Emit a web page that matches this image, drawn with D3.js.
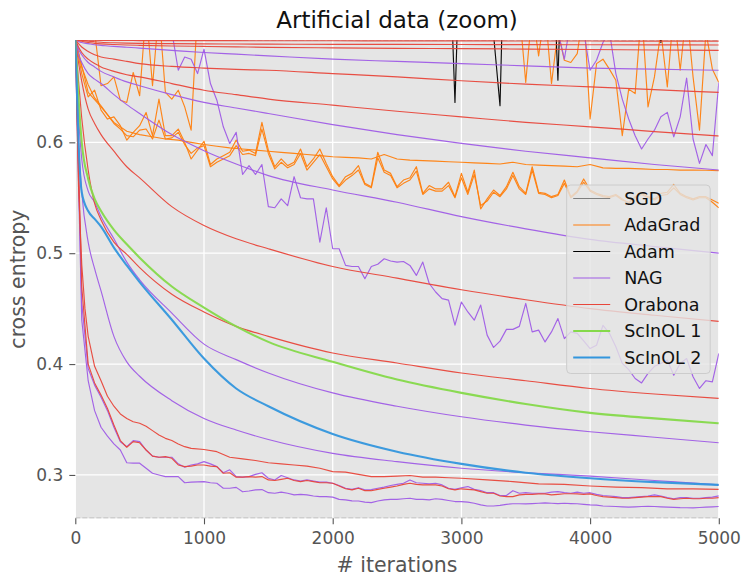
<!DOCTYPE html>
<html>
<head>
<meta charset="utf-8">
<script src="https://d3js.org/d3.v7.min.js"></script>
<style>
    body { margin: 0; background: #fff; }
    text { font-family: "DejaVu Sans", sans-serif; }
</style>
</head>
<body>
<script>
// axis setup
const xTicks = [0, 1000, 2000, 3000, 4000, 5000];
const yTicks = [0.3, 0.4, 0.5, 0.6];
const lossBounds = [0.2609, 0.6923];

const methods = ["SGD", "AdaGrad", "Adam", "NAG", "Orabona", "ScInOL 1", "ScInOL 2"];
const methodColors = ["#7f7f7f", "#ff7f0e", "#000000", "#9f5ce6", "#e8463a", "#85d94a", "#3396dd"];

// iterations for the smooth runs
const smoothIters = [0, 25, 50, 100, 150, 200, 300, 400, 500, 750, 1000, 1250, 1500, 2000, 2500, 3000, 3500, 4000, 4500, 5000];

const sgdIters = [0, 5000];
const sgdLoss = [0.6931, 0.6931];

// AdaGrad, sampled every 100 iterations
const adagradA = [
    0.693, 0.645, 0.632, 0.618, 0.610, 0.607, 0.605, 0.603, 0.602, 0.600,
    0.598, 0.5965, 0.595, 0.594, 0.593, 0.592, 0.591, 0.590, 0.589, 0.588,
    0.587, 0.5865, 0.586, 0.585, 0.589, 0.585, 0.584, 0.5835, 0.583, 0.5825,
    0.582, 0.5815, 0.581, 0.5805, 0.582, 0.580, 0.5795, 0.579, 0.5785, 0.578,
    0.580, 0.577, 0.5765, 0.5765, 0.576, 0.5755, 0.5755, 0.575, 0.575, 0.5748,
    0.5745];
// AdaGrad, sampled every 50 iterations
const adagradB = [
    0.693, 0.662, 0.641, 0.647, 0.629, 0.621, 0.623, 0.615, 0.602, 0.609,
    0.615, 0.627, 0.606, 0.639, 0.606, 0.606, 0.612, 0.600, 0.585, 0.593,
    0.601, 0.580, 0.585, 0.588, 0.591, 0.602, 0.592, 0.593, 0.590, 0.618,
    0.593, 0.578, 0.585, 0.579, 0.582, 0.594, 0.578, 0.585, 0.594, 0.581,
    0.569, 0.561, 0.569, 0.572, 0.579, 0.563, 0.560, 0.591, 0.575, 0.572,
    0.560, 0.566, 0.568, 0.578, 0.554, 0.561, 0.558, 0.558, 0.564, 0.551,
    0.572, 0.555, 0.575, 0.540, 0.549, 0.557, 0.552, 0.560, 0.573, 0.560,
    0.554, 0.578, 0.555, 0.554, 0.551, 0.553, 0.566, 0.551, 0.556, 0.567,
    0.557, 0.554, 0.552, 0.551, 0.553, 0.549, 0.545, 0.551, 0.554, 0.551,
    0.549, 0.554, 0.555, 0.562, 0.554, 0.551, 0.549, 0.551, 0.551, 0.548,
    0.545];
const adagradC = [
    0.693, 0.668, 0.652, 0.640, 0.633, 0.625, 0.617, 0.612, 0.606, 0.605,
    0.611, 0.612, 0.603, 0.620, 0.603, 0.604, 0.609, 0.598, 0.590, 0.595,
    0.597, 0.578, 0.582, 0.585, 0.588, 0.597, 0.589, 0.590, 0.588, 0.612,
    0.590, 0.576, 0.582, 0.577, 0.580, 0.590, 0.575, 0.582, 0.589, 0.578,
    0.567, 0.560, 0.566, 0.570, 0.575, 0.562, 0.559, 0.586, 0.573, 0.570,
    0.559, 0.563, 0.566, 0.574, 0.553, 0.558, 0.556, 0.556, 0.561, 0.550,
    0.568, 0.553, 0.571, 0.543, 0.547, 0.555, 0.551, 0.558, 0.570, 0.558,
    0.553, 0.575, 0.554, 0.553, 0.550, 0.552, 0.563, 0.550, 0.555, 0.564,
    0.556, 0.553, 0.551, 0.550, 0.552, 0.548, 0.546, 0.550, 0.553, 0.550,
    0.548, 0.552, 0.553, 0.559, 0.553, 0.550, 0.548, 0.550, 0.550, 0.546,
    0.541];
const adagradD = [
    0.693, 0.72, 0.71, 0.70, 0.651, 0.653, 0.659, 0.638, 0.636, 0.663,
    0.642, 0.72, 0.651, 0.72, 0.645, 0.639, 0.647, 0.632, 0.611, 0.72,
    0.74, 0.73, 0.75, 0.72, 0.74, 0.73, 0.75, 0.74, 0.72, 0.74,
    0.73, 0.75, 0.74, 0.72, 0.73, 0.75, 0.74, 0.73, 0.72, 0.74,
    0.75, 0.73, 0.74, 0.72, 0.74, 0.75, 0.73, 0.74, 0.72, 0.73,
    0.74, 0.75, 0.73, 0.72, 0.74, 0.73, 0.75, 0.74, 0.72, 0.73,
    0.74, 0.73, 0.75, 0.72, 0.74, 0.73, 0.75, 0.74, 0.73, 0.72,
    0.654, 0.72, 0.678, 0.72, 0.653, 0.70, 0.674, 0.672, 0.680, 0.72,
    0.621, 0.671, 0.675, 0.666, 0.656, 0.606, 0.648, 0.644, 0.72, 0.632,
    0.659, 0.70, 0.650, 0.72, 0.665, 0.72, 0.659, 0.611, 0.70, 0.666,
    0.654];

const adamIters = [0, 50, 1000, 2000, 2900, 2950, 3000, 3250, 3300, 3350, 3700, 3750, 3800, 4500, 4550, 4600, 5000];
const adamLoss = [0.6931, 0.80, 0.82, 0.81, 0.80, 0.636, 0.82, 0.697, 0.633, 0.86, 0.80, 0.656, 0.84, 0.74, 0.690, 0.75, 0.78];

// NAG, smooth runs
const nag1 = [0.6931, 0.691, 0.690, 0.689, 0.688, 0.6875, 0.6865, 0.6858, 0.685, 0.683, 0.681, 0.6795, 0.678, 0.675, 0.673, 0.671, 0.669, 0.667, 0.666, 0.665];
const nag2 = [0.6931, 0.684, 0.679, 0.672, 0.668, 0.664, 0.659, 0.6545, 0.651, 0.643, 0.636, 0.631, 0.626, 0.616, 0.607, 0.599, 0.592, 0.586, 0.580, 0.575];
const nag3 = [0.6931, 0.679, 0.672, 0.662, 0.657, 0.653, 0.643, 0.634, 0.626, 0.607, 0.5925, 0.5805, 0.570, 0.557, 0.546, 0.533, 0.522, 0.5125, 0.506, 0.500];
const nag4 = [0.6931, 0.625, 0.585, 0.556, 0.546, 0.533, 0.513, 0.492, 0.476, 0.446, 0.418, 0.404, 0.392, 0.374, 0.362, 0.3525, 0.345, 0.339, 0.334, 0.329];
const nag5 = [0.6931, 0.600, 0.555, 0.510, 0.486, 0.466, 0.425, 0.402, 0.389, 0.367, 0.351, 0.3405, 0.332, 0.3195, 0.312, 0.306, 0.302, 0.299, 0.295, 0.291];
// NAG, every 50 iterations
const nag6 = [
    0.693, 0.455, 0.396, 0.381, 0.370, 0.358, 0.343, 0.330, 0.3255, 0.331,
    0.330, 0.3225, 0.317, 0.316, 0.316, 0.316, 0.310, 0.307, 0.309, 0.310,
    0.312, 0.310, 0.3075, 0.302, 0.3046, 0.2985, 0.298, 0.2985, 0.3005, 0.302,
    0.297, 0.2955, 0.2995, 0.2975, 0.2955, 0.2945, 0.2955, 0.2945, 0.2935, 0.2935,
    0.2925, 0.2905, 0.288, 0.287, 0.2885, 0.2865, 0.2868, 0.288, 0.289, 0.2905,
    0.2915, 0.2925, 0.2955, 0.293, 0.2925, 0.292, 0.2925, 0.291, 0.288, 0.287,
    0.2885, 0.2895, 0.287, 0.286, 0.284, 0.284, 0.2815, 0.2815, 0.2858, 0.2835,
    0.284, 0.2835, 0.2835, 0.2835, 0.2845, 0.285, 0.284, 0.2835, 0.2845, 0.2835,
    0.284, 0.2825, 0.2815, 0.281, 0.2805, 0.2795, 0.2795, 0.280, 0.2805, 0.281,
    0.282, 0.281, 0.2795, 0.2785, 0.2795, 0.2795, 0.279, 0.279, 0.2795, 0.280,
    0.2811];
const nag7 = [
    0.693, 0.440, 0.385, 0.358, 0.343, 0.335, 0.328, 0.3225, 0.311, 0.3106,
    0.3106, 0.306, 0.3015, 0.300, 0.2985, 0.2985, 0.2985, 0.293, 0.2935, 0.2937,
    0.294, 0.293, 0.2925, 0.288, 0.288, 0.2888, 0.2848, 0.2855, 0.2865, 0.2868,
    0.284, 0.2835, 0.2845, 0.2835, 0.282, 0.2825, 0.282, 0.281, 0.2805, 0.2805,
    0.280, 0.278, 0.2775, 0.2766, 0.2765, 0.2755, 0.275, 0.2765, 0.2775, 0.278,
    0.278, 0.2785, 0.279, 0.278, 0.278, 0.2775, 0.2785, 0.278, 0.277, 0.276,
    0.276, 0.2755, 0.2745, 0.273, 0.272, 0.272, 0.2725, 0.2735, 0.274, 0.274,
    0.2739, 0.2742, 0.2745, 0.2748, 0.2745, 0.2742, 0.2745, 0.2742, 0.274, 0.2735,
    0.273, 0.2728, 0.272, 0.2718, 0.2715, 0.2712, 0.271, 0.2712, 0.2715, 0.2716,
    0.2715, 0.2712, 0.271, 0.2708, 0.2705, 0.2704, 0.2703, 0.2706, 0.271, 0.2712,
    0.2715];
const nag8 = [
    0.693, 0.73, 0.75, 0.76, 0.74, 0.75, 0.73, 0.76, 0.74, 0.75,
    0.73, 0.75, 0.74, 0.72, 0.73, 0.70, 0.665, 0.677, 0.675, 0.662,
    0.684, 0.653, 0.638, 0.614, 0.599, 0.609, 0.571, 0.579, 0.571, 0.580,
    0.542, 0.541, 0.549, 0.543, 0.569, 0.550, 0.549, 0.549, 0.510, 0.541,
    0.504, 0.504, 0.489, 0.488, 0.488, 0.477, 0.488, 0.490, 0.495, 0.493,
    0.492, 0.4925, 0.489, 0.480, 0.492, 0.4727, 0.465, 0.459, 0.4577, 0.4351,
    0.456, 0.447, 0.4396, 0.4532, 0.4261, 0.415, 0.4207, 0.4313, 0.4313, 0.434,
    0.4547, 0.429, 0.4306, 0.420, 0.429, 0.441, 0.423, 0.429, 0.4277, 0.421,
    0.414, 0.417, 0.435, 0.4277, 0.4156, 0.4006, 0.395, 0.387, 0.383, 0.3916,
    0.398, 0.4006, 0.4036, 0.390, 0.4006, 0.405, 0.3886, 0.378, 0.385, 0.384,
    0.4096];
const nag9 = [
    0.693, 0.74, 0.76, 0.75, 0.77, 0.76, 0.75, 0.77, 0.76, 0.75,
    0.76, 0.77, 0.75, 0.76, 0.77, 0.75, 0.76, 0.74, 0.76, 0.75,
    0.77, 0.76, 0.75, 0.76, 0.74, 0.75, 0.77, 0.76, 0.75, 0.76,
    0.75, 0.74, 0.76, 0.75, 0.77, 0.76, 0.75, 0.74, 0.76, 0.75,
    0.76, 0.75, 0.74, 0.76, 0.75, 0.73, 0.75, 0.76, 0.74, 0.75,
    0.74, 0.76, 0.75, 0.73, 0.75, 0.74, 0.76, 0.75, 0.74, 0.73,
    0.75, 0.74, 0.73, 0.75, 0.74, 0.73, 0.74, 0.75, 0.73, 0.74,
    0.74, 0.73, 0.72, 0.73, 0.71, 0.70, 0.675, 0.71, 0.72, 0.70,
    0.665, 0.674, 0.690, 0.70, 0.662, 0.639, 0.621, 0.606, 0.594, 0.603,
    0.611, 0.623, 0.627, 0.605, 0.623, 0.658, 0.603, 0.581, 0.598, 0.588,
    0.654];

// Orabona
const orabona1 = [0.6931, 0.6926, 0.6924, 0.6922, 0.6921, 0.6920, 0.6919, 0.6919, 0.6918, 0.6918, 0.6917, 0.6917, 0.6916, 0.6916, 0.6915, 0.6915, 0.6914, 0.6914, 0.6913, 0.6913];
const orabona2 = [0.6931, 0.6925, 0.6920, 0.6912, 0.6907, 0.6903, 0.6898, 0.6895, 0.6893, 0.6890, 0.6888, 0.6887, 0.6886, 0.6884, 0.6883, 0.6882, 0.6881, 0.6880, 0.6879, 0.6878];
const orabona3 = [0.6931, 0.6920, 0.6912, 0.6900, 0.6893, 0.6888, 0.6882, 0.6878, 0.6875, 0.6869, 0.6865, 0.6861, 0.6857, 0.6852, 0.6848, 0.6845, 0.6841, 0.6837, 0.6833, 0.6829];
const orabona4 = [0.6931, 0.689, 0.686, 0.682, 0.679, 0.677, 0.675, 0.673, 0.671, 0.6685, 0.667, 0.6658, 0.665, 0.662, 0.659, 0.6555, 0.6525, 0.650, 0.6475, 0.645];
const orabona5 = [0.6931, 0.686, 0.681, 0.675, 0.671, 0.668, 0.664, 0.661, 0.659, 0.653, 0.647, 0.643, 0.639, 0.6335, 0.628, 0.623, 0.618, 0.614, 0.6097, 0.6057];
const orabona6 = [0.6931, 0.672, 0.655, 0.630, 0.617, 0.607, 0.592, 0.578, 0.568, 0.542, 0.525, 0.513, 0.504, 0.488, 0.4775, 0.467, 0.458, 0.450, 0.444, 0.4385];
const orabona7 = [0.6931, 0.655, 0.622, 0.575, 0.545, 0.530, 0.510, 0.499, 0.487, 0.463, 0.447, 0.434, 0.425, 0.410, 0.401, 0.392, 0.385, 0.378, 0.373, 0.369];
const orabona8Iters = [0, 25, 50, 75, 100, 150, 200, 250, 300, 350, 400, 450, 500, 550, 600, 650, 700, 750, 800, 850, 900,
    1000, 1100, 1200, 1300, 1400, 1500, 1600, 1700, 1800, 1900, 2000, 2100, 2200, 2300, 2400, 2500, 2600, 2700, 2800, 2900, 3000,
    3200, 3400, 3600, 3800, 4000, 4200, 4400, 4600, 4800, 5000];
const orabona8 = [0.693, 0.56, 0.49, 0.45, 0.425, 0.398, 0.385, 0.371, 0.362, 0.355, 0.351, 0.348, 0.3466, 0.344, 0.340, 0.336, 0.333, 0.331, 0.328, 0.3255, 0.324,
    0.323, 0.321, 0.316, 0.3145, 0.313, 0.311, 0.310, 0.309, 0.308, 0.306, 0.303, 0.3025, 0.3005, 0.2985, 0.2985, 0.299, 0.2995, 0.298, 0.298, 0.2975, 0.297,
    0.2955, 0.294, 0.292, 0.2915, 0.290, 0.289, 0.2885, 0.2875, 0.2875, 0.287];
const orabona9 = [
    0.693, 0.470, 0.400, 0.383, 0.372, 0.360, 0.345, 0.331, 0.325, 0.330,
    0.329, 0.3225, 0.317, 0.316, 0.3165, 0.315, 0.309, 0.3075, 0.308, 0.309,
    0.309, 0.308, 0.3075, 0.3015, 0.302, 0.298, 0.298, 0.2985, 0.298, 0.2985,
    0.2955, 0.295, 0.296, 0.297, 0.295, 0.294, 0.295, 0.294, 0.293, 0.293,
    0.2925, 0.290, 0.2875, 0.2865, 0.288, 0.2858, 0.2858, 0.287, 0.288, 0.289,
    0.290, 0.2915, 0.2925, 0.2915, 0.291, 0.291, 0.291, 0.290, 0.2875, 0.2865,
    0.2875, 0.287, 0.2865, 0.285, 0.2835, 0.2835, 0.281, 0.2805, 0.2805, 0.282,
    0.2825, 0.2825, 0.2829, 0.2829, 0.282, 0.2825, 0.283, 0.283, 0.2829, 0.2825,
    0.2829, 0.2815, 0.2805, 0.280, 0.2795, 0.279, 0.279, 0.2795, 0.280, 0.2805,
    0.2805, 0.2805, 0.279, 0.278, 0.2785, 0.279, 0.2785, 0.2785, 0.279, 0.279,
    0.2795];

const scinol1 = [0.6931, 0.640, 0.600, 0.567, 0.549, 0.538, 0.521, 0.508, 0.496, 0.470, 0.451, 0.434, 0.420, 0.402, 0.386, 0.374, 0.364, 0.356, 0.351, 0.3466];
const scinol2 = [0.6931, 0.600, 0.555, 0.538, 0.531, 0.524, 0.505, 0.489, 0.474, 0.440, 0.405, 0.378, 0.362, 0.337, 0.321, 0.310, 0.302, 0.297, 0.2935, 0.291];

// helpers to pair iterations with losses
let zipIters = function(iters, loss) {
    return loss.map(function(v, i) { return [iters[i], v]; });
};
let everyN = function(n, loss) {
    return loss.map(function(v, i) { return [i * n, v]; });
};

let runs = [
    {m: 0, pts: zipIters(sgdIters, sgdLoss)},
    {m: 1, pts: everyN(100, adagradA)},
    {m: 1, pts: everyN(50, adagradB)},
    {m: 1, pts: everyN(50, adagradC)},
    {m: 1, pts: everyN(50, adagradD)},
    {m: 2, pts: zipIters(adamIters, adamLoss)},
    {m: 3, pts: zipIters(smoothIters, nag1), smooth: true},
    {m: 3, pts: zipIters(smoothIters, nag2), smooth: true},
    {m: 3, pts: zipIters(smoothIters, nag3), smooth: true},
    {m: 3, pts: zipIters(smoothIters, nag4), smooth: true},
    {m: 3, pts: zipIters(smoothIters, nag5), smooth: true},
    {m: 3, pts: everyN(50, nag6)},
    {m: 3, pts: everyN(50, nag7)},
    {m: 3, pts: everyN(50, nag8)},
    {m: 3, pts: everyN(50, nag9)},
    {m: 4, pts: zipIters(smoothIters, orabona1), smooth: true},
    {m: 4, pts: zipIters(smoothIters, orabona2), smooth: true},
    {m: 4, pts: zipIters(smoothIters, orabona3), smooth: true},
    {m: 4, pts: zipIters(smoothIters, orabona4), smooth: true},
    {m: 4, pts: zipIters(smoothIters, orabona5), smooth: true},
    {m: 4, pts: zipIters(smoothIters, orabona6), smooth: true},
    {m: 4, pts: zipIters(smoothIters, orabona7), smooth: true},
    {m: 4, pts: zipIters(orabona8Iters, orabona8)},
    {m: 4, pts: everyN(50, orabona9)},
    {m: 5, pts: zipIters(smoothIters, scinol1), smooth: true},
    {m: 6, pts: zipIters(smoothIters, scinol2), smooth: true}
];

let width = 745,
    height = 576,
    margin = {top: 40, right: 26.2, bottom: 57.7, left: 75.3};

let svg = d3.select("body").append("svg")
    .attr("width", width)
    .attr("height", height);

let x = d3.scaleLinear()
    .domain([0, 5000])
    .range([margin.left, width - margin.right]);

let y = d3.scaleLinear()
    .domain(lossBounds)
    .range([height - margin.bottom, margin.top]);

// panel + grid
svg.append("rect")
    .attr("x", x(0)).attr("y", y(lossBounds[1]))
    .attr("width", x(5000) - x(0))
    .attr("height", y(lossBounds[0]) - y(lossBounds[1]))
    .attr("fill", "#e5e5e5");

let grid = svg.append("g").attr("stroke", "#fff").attr("stroke-width", 1.3);
grid.selectAll("line.gx")
    .data(xTicks)
    .join("line")
        .attr("class", "gx")
        .attr("x1", function(d) { return x(d); })
        .attr("x2", function(d) { return x(d); })
        .attr("y1", y(lossBounds[0]))
        .attr("y2", y(lossBounds[1]));
grid.selectAll("line.gy")
    .data(yTicks)
    .join("line")
        .attr("class", "gy")
        .attr("x1", x(0))
        .attr("x2", x(5000))
        .attr("y1", function(d) { return y(d); })
        .attr("y2", function(d) { return y(d); });

svg.append("clipPath")
    .attr("id", "plot-clip")
  .append("rect")
    .attr("x", x(0)).attr("y", y(lossBounds[1]))
    .attr("width", x(5000) - x(0))
    .attr("height", y(lossBounds[0]) - y(lossBounds[1]));

let plot = svg.append("g").attr("clip-path", "url(#plot-clip)");

// dashed bounds
plot.selectAll("line.bound")
    .data(lossBounds)
    .join("line")
        .attr("class", "bound")
        .attr("x1", x(0))
        .attr("x2", x(5000))
        .attr("y1", function(d) { return y(d); })
        .attr("y2", function(d) { return y(d); })
        .attr("stroke", "#b8b8b8")
        .attr("stroke-width", 1.6)
        .attr("stroke-dasharray", "5,2");

let lineLinear = d3.line()
    .x(function(d) { return x(d[0]); })
    .y(function(d) { return y(d[1]); });
let lineSmooth = d3.line()
    .curve(d3.curveMonotoneX)
    .x(function(d) { return x(d[0]); })
    .y(function(d) { return y(d[1]); });

plot.selectAll("path.run")
    .data(runs)
    .join("path")
        .attr("class", "run")
        .attr("fill", "none")
        .attr("stroke", function(d) { return methodColors[d.m]; })
        .attr("stroke-width", function(d) { return d.m >= 5 ? 2.1 : 1.15; })
        .attr("stroke-opacity", 0.95)
        .attr("stroke-linejoin", "round")
        .attr("d", function(d) { return d.smooth ? lineSmooth(d.pts) : lineLinear(d.pts); });

// axes
let xAxis = svg.append("g")
    .attr("transform", "translate(0," + y(lossBounds[0]) + ")")
    .call(d3.axisBottom(x).tickValues(xTicks).tickFormat(d3.format("d")).tickSize(6).tickPadding(8));
let yAxis = svg.append("g")
    .attr("transform", "translate(" + x(0) + ",0)")
    .call(d3.axisLeft(y).tickValues(yTicks).tickFormat(d3.format(".1f")).tickSize(6).tickPadding(6));

[xAxis, yAxis].forEach(function(a) {
    a.select(".domain").remove();
    a.selectAll(".tick line").attr("stroke", "#555").attr("stroke-width", 1.1);
    a.selectAll(".tick text")
        .attr("fill", "#555")
        .style("font-size", "17px")
        .style("font-family", "'DejaVu Sans', sans-serif");
});

svg.append("text")
    .attr("x", (x(0) + x(5000)) / 2)
    .attr("y", 572)
    .attr("text-anchor", "middle")
    .attr("fill", "#555")
    .style("font-size", "20.5px")
    .text("# iterations");

svg.append("text")
    .attr("transform", "translate(25," + (y(lossBounds[0]) + y(lossBounds[1])) / 2 + ") rotate(-90)")
    .attr("text-anchor", "middle")
    .attr("fill", "#555")
    .style("font-size", "20.5px")
    .text("cross entropy");

svg.append("text")
    .attr("x", (x(0) + x(5000)) / 2)
    .attr("y", 28)
    .attr("text-anchor", "middle")
    .attr("fill", "#111")
    .style("font-size", "23px")
    .text("Artificial data (zoom)");

// legend
let legend = svg.append("g").attr("transform", "translate(566.7,185)");
legend.append("rect")
    .attr("width", 143.5)
    .attr("height", 188.5)
    .attr("rx", 4)
    .attr("fill", "#e5e5e5")
    .attr("fill-opacity", 0.8)
    .attr("stroke", "#cccccc");

let items = legend.selectAll("g.item")
    .data(methods)
    .join("g")
        .attr("class", "item")
        .attr("transform", function(d, i) { return "translate(0," + (13.5 + i * 26.5) + ")"; });
items.append("line")
    .attr("x1", 6.5).attr("x2", 43.5)
    .attr("stroke", function(d, i) { return methodColors[i]; })
    .attr("stroke-width", function(d, i) { return i >= 5 ? 2.1 : 1.2; });
items.append("text")
    .attr("x", 57.5)
    .attr("dy", "0.36em")
    .attr("fill", "#111")
    .style("font-size", "17.5px")
    .text(function(d) { return d; });
</script>
</body>
</html>
